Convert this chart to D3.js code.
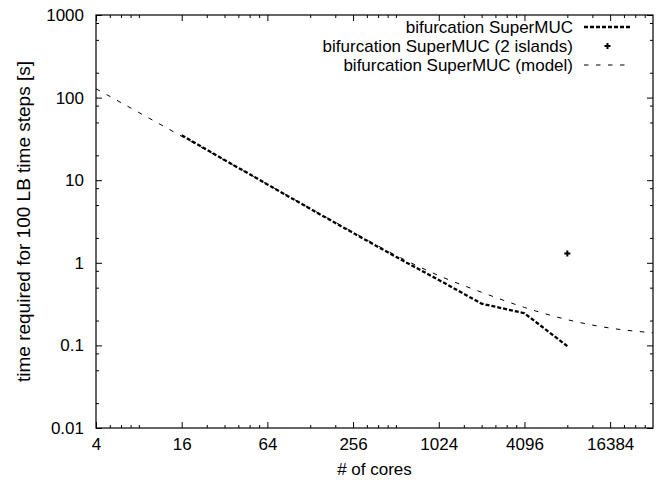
<!DOCTYPE html>
<html>
<head>
<meta charset="utf-8">
<script src="https://cdn.jsdelivr.net/npm/d3@7"></script>
<style>
  body { margin: 0; background: #fff; }
  svg { display: block; font-family: "Liberation Sans", Arial, Helvetica, sans-serif; }
  .axis text { font-size: 17px; fill: #000; }
  .axis line { stroke: #000; stroke-width: 1; }
  .axis .domain { display: none; }
  .label { font-size: 17px; fill: #000; }
  .ylabel { font-size: 19px; fill: #000; }
</style>
</head>
<body>
<svg id="chart"></svg>
<script>
// measured runs
const measuredCores = [16, 32, 64, 128, 256, 512, 1024, 2048, 4096, 8192];
const measuredTime = [35, 17.6, 8.9, 4.5, 2.3, 1.18, 0.62, 0.32, 0.245, 0.098];

// the run across 2 islands
const islandCores = [8192];
const islandTime = [1.3];

// performance model
const modelCores = [4, 8, 16, 32, 64, 128, 256, 512, 1024, 2048, 4096, 8192, 16384, 32768];
const modelTime = [128, 66, 34, 17.4, 8.9, 4.55, 2.35, 1.23, 0.70, 0.44, 0.288, 0.205, 0.162, 0.142];

const seriesNames = ['bifurcation SuperMUC', 'bifurcation SuperMUC (2 islands)', 'bifurcation SuperMUC (model)'];

// tick marks
const xMajorTicks = [4, 16, 64, 256, 1024, 4096, 16384];
const xMinorTicks = [5, 6, 7, 8, 24, 32, 40, 48, 56, 128, 192, 320, 384, 448, 512,
                     1536, 2048, 2560, 3072, 3584, 8192, 12288, 20480, 24576, 28672];
const yMajorTicks = [0.01, 0.1, 1, 10, 100, 1000];
const yMinorTicks = [0.02, 0.05, 0.08, 0.2, 0.5, 0.8, 2, 5, 8, 20, 50, 80, 200, 500, 800];

const width = 659, height = 480;
const margin = { top: 15, right: 6, bottom: 52, left: 96 };
const innerW = width - margin.left - margin.right;
const innerH = height - margin.top - margin.bottom;

const svg = d3.select('#chart')
    .attr('width', width)
    .attr('height', height);

const chart = svg.append('g')
    .attr('transform', `translate(${margin.left},${margin.top})`);

const xScale = d3.scaleLog().base(2)
    .domain([4, 32768])
    .range([0, innerW]);

const yScale = d3.scaleLog()
    .domain([0.01, 1000])
    .range([innerH, 0]);

const fmtY = d => d >= 1 ? d3.format('d')(d) : String(d);

// bottom axis with labels, plus minor ticks
chart.append('g')
    .attr('class', 'axis')
    .attr('transform', `translate(0,${innerH})`)
    .call(d3.axisBottom(xScale).tickValues(xMajorTicks).tickFormat(d3.format('d'))
        .tickSize(-6).tickPadding(10));
chart.append('g')
    .attr('class', 'axis')
    .attr('transform', `translate(0,${innerH})`)
    .call(d3.axisBottom(xScale).tickValues(xMinorTicks).tickFormat('').tickSize(-3));

// mirrored top ticks
chart.append('g')
    .attr('class', 'axis')
    .call(d3.axisTop(xScale).tickValues(xMajorTicks).tickFormat('').tickSize(-6));
chart.append('g')
    .attr('class', 'axis')
    .call(d3.axisTop(xScale).tickValues(xMinorTicks).tickFormat('').tickSize(-3));

// left axis with labels
chart.append('g')
    .attr('class', 'axis')
    .call(d3.axisLeft(yScale).tickValues(yMajorTicks).tickFormat(fmtY)
        .tickSize(-6).tickPadding(12));
chart.append('g')
    .attr('class', 'axis')
    .call(d3.axisLeft(yScale).tickValues(yMinorTicks).tickFormat('').tickSize(-3));

// mirrored right ticks
chart.append('g')
    .attr('class', 'axis')
    .attr('transform', `translate(${innerW},0)`)
    .call(d3.axisRight(yScale).tickValues(yMajorTicks).tickFormat('').tickSize(-6));
chart.append('g')
    .attr('class', 'axis')
    .attr('transform', `translate(${innerW},0)`)
    .call(d3.axisRight(yScale).tickValues(yMinorTicks).tickFormat('').tickSize(-3));

// frame
chart.append('rect')
    .attr('width', innerW)
    .attr('height', innerH)
    .attr('fill', 'none')
    .attr('stroke', '#000')
    .attr('stroke-width', 1.2);

// model curve (thin dashes)
const modelLine = d3.line()
    .x(d => xScale(d[0]))
    .y(d => yScale(d[1]))
    .curve(d3.curveMonotoneX);

chart.append('path')
    .datum(d3.zip(modelCores, modelTime))
    .attr('d', modelLine)
    .attr('fill', 'none')
    .attr('stroke', '#000')
    .attr('stroke-width', 1)
    .attr('stroke-dasharray', '4.5,7.5');

// measured curve (thick dashes)
const measuredLine = d3.line()
    .x(d => xScale(d[0]))
    .y(d => yScale(d[1]));

chart.append('path')
    .datum(d3.zip(measuredCores, measuredTime))
    .attr('d', measuredLine)
    .attr('fill', 'none')
    .attr('stroke', '#000')
    .attr('stroke-width', 2.3)
    .attr('stroke-dasharray', '4,2');

const plus = 'M-3,0H3M0,-3V3';

chart.selectAll('.island')
    .data(d3.zip(islandCores, islandTime))
  .join('path')
    .attr('class', 'island')
    .attr('transform', d => `translate(${xScale(d[0])},${yScale(d[1])})`)
    .attr('d', plus)
    .attr('stroke', '#000')
    .attr('stroke-width', 2);

// legend
const legend = svg.append('g')
    .attr('transform', 'translate(573,27)');
const rowH = 19;

seriesNames.forEach((name, i) => {
  legend.append('text')
      .attr('class', 'label')
      .attr('x', 0)
      .attr('y', i * rowH)
      .attr('dy', '0.35em')
      .attr('text-anchor', 'end')
      .text(name);
});

legend.append('line')
    .attr('x1', 11).attr('x2', 58)
    .attr('y1', 0).attr('y2', 0)
    .attr('stroke', '#000')
    .attr('stroke-width', 2.3)
    .attr('stroke-dasharray', '4,2');

legend.append('path')
    .attr('transform', `translate(34.5,${rowH})`)
    .attr('d', plus)
    .attr('stroke', '#000')
    .attr('stroke-width', 2);

legend.append('line')
    .attr('x1', 11).attr('x2', 58)
    .attr('y1', 2 * rowH).attr('y2', 2 * rowH)
    .attr('stroke', '#000')
    .attr('stroke-width', 1)
    .attr('stroke-dasharray', '4.5,7.5');

// axis titles
svg.append('text')
    .attr('class', 'label')
    .attr('x', margin.left + innerW / 2)
    .attr('y', 475)
    .attr('text-anchor', 'middle')
    .text('# of cores');

svg.append('text')
    .attr('class', 'ylabel')
    .attr('transform', `translate(23,${margin.top + innerH / 2}) rotate(-90)`)
    .attr('dy', '0.35em')
    .attr('text-anchor', 'middle')
    .text('time required for 100 LB time steps [s]');
</script>
</body>
</html>
